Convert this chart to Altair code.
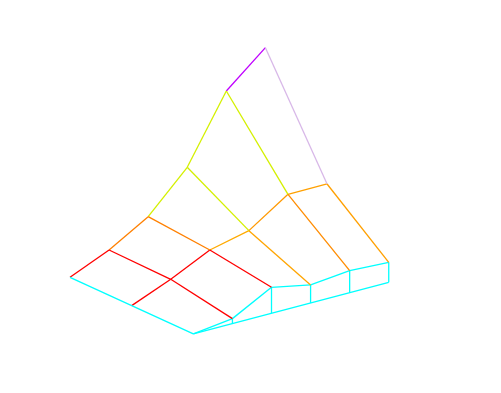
import altair as alt
import pandas as pd

# Surface heights: rows run back (v=0) to front (v=2), columns along u (0..5)
z_row0 = [0, 17, 40, 79, 145, 178]
z_row1 = [0, 16, 35, 44, 70, 70]
z_row2 = [0, 5, 26, 18, 22, 20]
Z = [z_row0, z_row1, z_row2]

# Colours of the grid segments running along u (one list per row)
u_colors = [
    ["#ff0000", "#ff8000", "#d4f000", "#d4f000", "#c000ff"],
    ["#ff0000", "#ff0000", "#ffaa00", "#ff9900", "#ffa000"],
    ["#00ffff", "#00ffff", "#00ffff", "#00ffff", "#00ffff"],
]
# Colours of the grid segments running along v (one pair per column)
v_colors = [
    ["#00ffff", "#00ffff"],
    ["#ff0000", "#ff0000"],
    ["#ff8000", "#ff0000"],
    ["#d4f000", "#ffa500"],
    ["#d4f000", "#ff8c00"],
    ["#d8b8e8", "#ffa000"],
]
base_color = "#00ffff"

# Oblique view transform (3D grid -> screen)
ORIGIN = (62.0, 269.3)
U_STEP = (39.08, -10.33)
V_STEP = (61.67, 28.33)


def project(u, v, z):
    sx = ORIGIN[0] + U_STEP[0] * u + V_STEP[0] * v
    sy = ORIGIN[1] + U_STEP[1] * u + V_STEP[1] * v - z
    return sx, sy


rows = []
seg = 0


def add_segment(p0, p1, color):
    global seg
    for k, (u, v, z) in enumerate((p0, p1)):
        sx, sy = project(u, v, z)
        rows.append({"seg": seg, "k": k, "sx": sx, "sy": sy, "color": color})
    seg += 1


nrows = len(Z)
ncols = len(Z[0])
# base curtain along the front edge
add_segment((0, nrows - 1, 0), (ncols - 1, nrows - 1, 0), base_color)
for u in range(1, ncols):
    add_segment((u, nrows - 1, Z[nrows - 1][u]), (u, nrows - 1, 0), base_color)
# grid lines along u
for v in range(nrows):
    for u in range(ncols - 1):
        add_segment((u, v, Z[v][u]), (u + 1, v, Z[v][u + 1]), u_colors[v][u])
# grid lines along v
for u in range(ncols):
    for v in range(nrows - 1):
        add_segment((u, v, Z[v][u]), (u, v + 1, Z[v + 1][u]), v_colors[u][v])

df = pd.DataFrame(rows)

W, H = 485, 377
chart = (
    alt.Chart(df)
    .mark_line(strokeWidth=1.3)
    .encode(
        x=alt.X("sx:Q", scale=alt.Scale(domain=[0, W], nice=False, zero=False), axis=None),
        y=alt.Y("sy:Q", scale=alt.Scale(domain=[0, H], nice=False, zero=False, reverse=True), axis=None),
        color=alt.Color("color:N", scale=None),
        detail="seg:N",
        order="k:Q",
    )
    .properties(width=W, height=H, autosize=alt.AutoSizeParams(type="none"), padding=0)
    .configure_view(stroke=None)
)

chart.save("out.html", embed_options={"renderer": "svg", "actions": False})
